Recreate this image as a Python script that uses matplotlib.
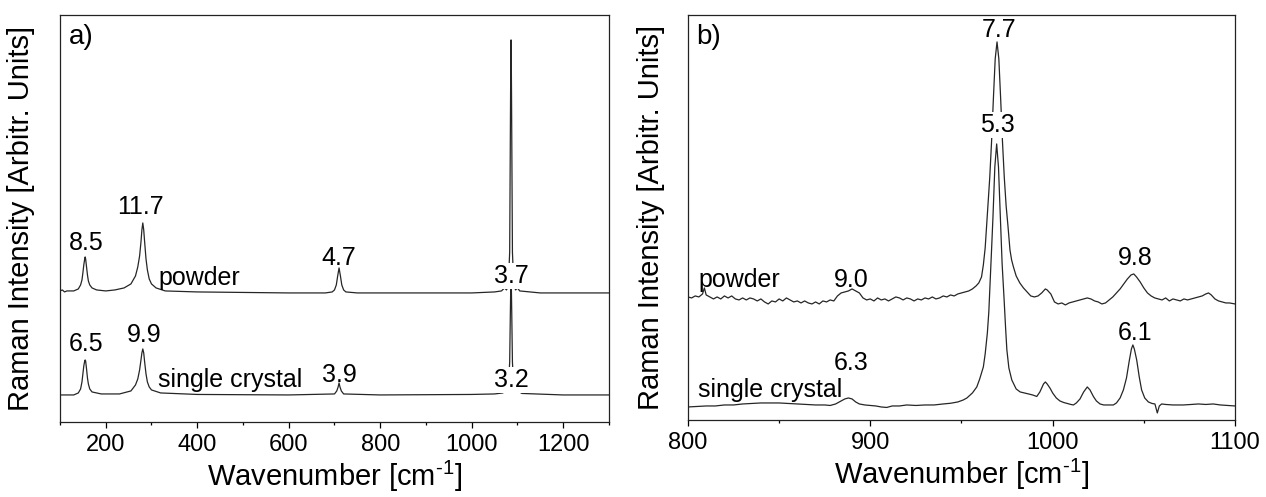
#!/usr/bin/env python

import numpy
import matplotlib
matplotlib.use('Agg')
import matplotlib.pyplot as plt
from matplotlib.ticker import MultipleLocator

plt.rcParams['font.family'] = ['Liberation Sans', 'DejaVu Sans']
plt.rcParams['mathtext.default'] = 'regular'

# ---- panel a) : full range spectra (wavenumber, intensity in arbitr. units)
a_powder_wn = [100, 105, 110, 115, 120, 130, 140, 145, 148, 150, 152, 154, 155, 156, 158, 160,
               162, 165, 170, 180, 200, 220, 240, 255, 265, 270, 274, 277, 279, 281, 283, 285,
               288, 291, 295, 300, 310, 330, 400, 500, 600, 680, 695, 700, 704, 707, 710, 713,
               716, 720, 725, 750, 900, 1000, 1050, 1065, 1072, 1076, 1080, 1083, 1084, 1085,
               1085.7, 1086, 1086.3, 1087, 1088, 1089, 1092, 1096, 1100, 1105, 1150, 1200, 1300]
a_powder_int = [131, 132, 130, 131, 131, 131, 133, 137, 142, 149, 157, 163, 165, 163, 155, 147,
                141, 137, 134, 132, 131, 132, 134, 138, 146, 155, 166, 180, 192, 199, 192, 180,
                163, 152, 143, 138, 134, 131, 130, 129.5, 129, 129, 130, 132, 137, 146, 154, 146,
                137, 132, 130, 129, 129, 129, 130, 131, 134, 132, 136, 170, 250, 330,
                375, 382, 375, 330, 250, 170, 136, 132, 134, 131, 129, 129, 129]

a_crystal_wn = [100, 130, 140, 145, 148, 150, 152, 154, 155, 156, 158, 160, 162, 165, 170, 190,
                230, 255, 265, 270, 274, 277, 279, 281, 283, 285, 288, 291, 295, 300, 320, 400,
                600, 700, 705, 708, 710, 712, 715, 720, 800, 1000, 1050, 1068, 1073, 1077, 1080,
                1083, 1084.5, 1085.5, 1086, 1086.5, 1087.5, 1089, 1092, 1096, 1100, 1110, 1200, 1300]
a_crystal_int = [27, 27, 29, 33, 40, 48, 56, 61, 62, 61, 53, 44, 38, 33, 30, 28,
                 28, 31, 37, 43, 52, 62, 69, 73, 69, 60, 48, 40, 35, 32, 29, 27.5,
                 27, 28, 31, 35, 39, 35, 31, 28, 27, 27.5, 28, 29, 31, 30, 33,
                 60, 110, 140, 147, 140, 110, 60, 33, 30, 31, 28.5, 27, 27]

# FWHM labels for panel a): (text, wavenumber, height)
a_labels = [('8.5', 157, 179), ('11.7', 276, 215), ('4.7', 710, 164), ('3.7', 1086, 146),
            ('6.5', 157, 78), ('9.9', 284, 87), ('3.9', 710, 47), ('3.2', 1086, 42)]
a_boxed = ['3.7', '3.2']
a_names = [('powder', 316, 144), ('single crystal', 314, 42)]

# ---- panel b) : zoom 800-1100 cm-1
b_powder_wn = [800, 802, 804, 806, 808, 809, 810, 812, 814, 816, 818, 820, 822, 824, 826, 828,
               830, 832, 834, 836, 838, 840, 842, 844, 846, 848, 850, 852, 854, 856, 858, 860,
               862, 864, 866, 868, 870, 872, 874, 876, 878, 880, 882, 884, 886, 888, 890, 892,
               894, 896, 898, 900, 902, 904, 906, 908, 910, 912, 914, 916, 918, 920, 922, 924,
               926, 928, 930, 932, 934, 936, 938, 940, 942, 944, 946, 948, 950, 952, 954, 956,
               958, 959.5, 961, 962, 963, 964, 964.5, 965.5, 966.5, 967.5, 968.5, 969.5, 970.5,
               971.5, 972.5, 973.5, 974.5, 975.5, 976.6, 977.5, 978.5, 980, 982, 984, 986, 988,
               990, 992, 994, 996, 997, 999, 1001, 1003, 1005, 1007, 1009, 1011, 1013, 1015,
               1017, 1019, 1021, 1023, 1025, 1027, 1029, 1031, 1033, 1035, 1037, 1039, 1041,
               1043, 1044.5, 1046, 1048, 1050, 1052, 1054, 1056, 1058, 1060, 1062, 1064, 1066,
               1068, 1070, 1072, 1074, 1076, 1078, 1080, 1082, 1084, 1085.5, 1087, 1089, 1091,
               1093, 1095, 1097, 1100]
b_powder_int = [123, 122, 124, 123, 126, 132, 125, 123, 121, 123, 121, 124, 122, 124, 121, 120,
                122, 120, 122, 121, 119, 121, 118, 116, 119, 118, 121, 119, 122, 120, 118, 119,
                117, 119, 117, 116, 118, 116, 119, 118, 120, 119, 124, 127, 128, 129, 131, 129,
                127, 122, 120, 121, 119, 122, 120, 121, 119, 121, 123, 122, 120, 122, 121, 119,
                121, 120, 122, 121, 123, 121, 122, 124, 123, 125, 124, 126, 127, 128, 129, 131,
                134, 137, 143, 155, 172, 200, 214, 242, 278, 321, 361, 378, 361,
                321, 278, 242, 214, 194, 170, 160, 153, 144, 137, 132, 128, 124,
                123, 124, 127, 131, 130, 126, 118, 116, 117, 115, 117, 118, 119, 120,
                121, 122, 121, 119, 118, 116, 117, 120, 123, 127, 131, 136, 141,
                145, 146, 143, 138, 132, 127, 124, 122, 121, 120, 122, 119, 121,
                120, 119, 121, 120, 121, 122, 123, 124, 126, 127, 125, 121, 119,
                118, 117, 117, 116]

b_crystal_wn = [800, 805, 810, 815, 820, 825, 830, 835, 840, 845, 850, 855, 860, 865, 870, 875,
                878, 881, 884, 886, 888, 890, 892, 894, 897, 900, 903, 906, 909, 912, 916, 920,
                925, 930, 935, 940, 944, 948, 951, 953, 956, 958.4, 960, 962, 963, 964.2, 965,
                965.7, 966.5, 967.3, 968.3, 969.3, 970.3, 971.3, 972.3, 973.4, 974.2, 974.9, 976,
                977.6, 980, 982.2, 984.5, 986.8, 989, 991.3, 993, 995, 996, 997, 998.6, 1000,
                1002, 1004, 1006, 1008, 1010, 1011.4, 1013, 1015, 1017, 1019, 1020.5, 1022.4,
                1024, 1026, 1028, 1031, 1033.3, 1035, 1037, 1038.8, 1040.5, 1042.1, 1043.2, 1044,
                1044.8, 1046.1, 1047.5, 1048.8, 1050.5, 1052.5, 1054.5, 1056.1, 1057.4, 1058.5,
                1059.8, 1062, 1066, 1071.7, 1076, 1080, 1084, 1088, 1092, 1096, 1100]
b_crystal_int = [13, 13.5, 14, 14, 15, 15, 16, 16.5, 17, 17, 17, 16.5, 16, 15.5, 15, 15,
                 14.5, 16, 19, 21, 22, 21, 18, 16, 15, 14.5, 14, 13, 12.5, 14, 14, 15,
                 14.5, 15, 15, 16, 16.7, 18, 20, 22, 27, 33, 41, 53, 66, 87, 108,
                 137, 170, 204, 253, 276, 253, 204, 156, 120, 92, 70, 52,
                 40, 31, 28, 27, 26, 25, 23.5, 28, 36, 38, 36, 31.7, 27,
                 22, 19, 17.5, 16.5, 15.5, 15, 17, 21, 28, 33, 30, 23.3,
                 19, 16, 15, 15, 15, 17, 22, 30, 42, 60, 71, 75,
                 71, 60, 43, 30, 22, 18, 16.5, 16, 7, 14,
                 16, 15.5, 15, 15, 15.5, 16, 15.5, 16, 15, 14.5, 14]

b_labels = [('7.7', 970.4, 390), ('5.3', 969.8, 295), ('9.0', 889.6, 140), ('9.8', 1045.2, 162),
            ('6.3', 889.6, 57), ('6.1', 1045.2, 87)]
b_boxed = ['5.3']
b_names = [('powder', 805.5, 140), ('single crystal', 805.5, 30)]

line_color = '#262626'


def draw_panel(ax, spectra, xlim, ylim, major, minor, labels, boxed, names, tag):
    for wn, inten in spectra:
        ax.plot(wn, inten, color=line_color, linewidth=0.9, zorder=2)
    ax.set_xlim(*xlim)
    ax.set_ylim(*ylim)
    ax.xaxis.set_major_locator(MultipleLocator(major))
    ax.xaxis.set_minor_locator(MultipleLocator(minor))
    ax.set_yticks([])
    ax.tick_params(axis='x', which='major', direction='out', length=4.5, width=0.9,
                   labelsize=17, pad=4)
    ax.tick_params(axis='x', which='minor', direction='out', length=2.5, width=0.9)
    for sp in ax.spines.values():
        sp.set_linewidth(0.9)
        sp.set_color('#222222')
    for txt, x, y in labels:
        kw = {}
        if txt in boxed:
            kw['bbox'] = dict(facecolor='white', edgecolor='none', pad=0.5)
        ax.text(x, y, txt, ha='center', va='center', fontsize=18, zorder=5, **kw)
    for txt, x, y in names:
        ax.text(x, y, txt, ha='left', va='center', fontsize=18, zorder=5)
    ax.text(0.016, 0.945, tag, transform=ax.transAxes, ha='left', va='center', fontsize=20)
    # hyphen (not minus) in the superscript, as in the original figure
    ax.set_xlabel('Wavenumber [cm$^{\u2010' + '1}$]', fontsize=21, labelpad=2)
    ax.set_ylabel('Raman Intensity [Arbitr. Units]', fontsize=21)


fig = plt.figure(figsize=(12.66, 4.97), dpi=100)
ax_a = fig.add_axes([0.0474, 0.151, 0.4336, 0.819])
ax_b = fig.add_axes([0.5434, 0.155, 0.4321, 0.815])

draw_panel(ax_a, [(a_crystal_wn, a_crystal_int), (a_powder_wn, a_powder_int)],
           (100, 1300), (0, 407), 200, 100, a_labels, a_boxed, a_names, 'a)')
draw_panel(ax_b, [(b_crystal_wn, b_crystal_int), (b_powder_wn, b_powder_int)],
           (800, 1100), (0, 405), 100, 50, b_labels, b_boxed, b_names, 'b)')

ax_a.yaxis.set_label_coords(-0.045, 0.5)
ax_b.yaxis.set_label_coords(-0.042, 0.5)

fig.savefig('out.png', dpi=100)
